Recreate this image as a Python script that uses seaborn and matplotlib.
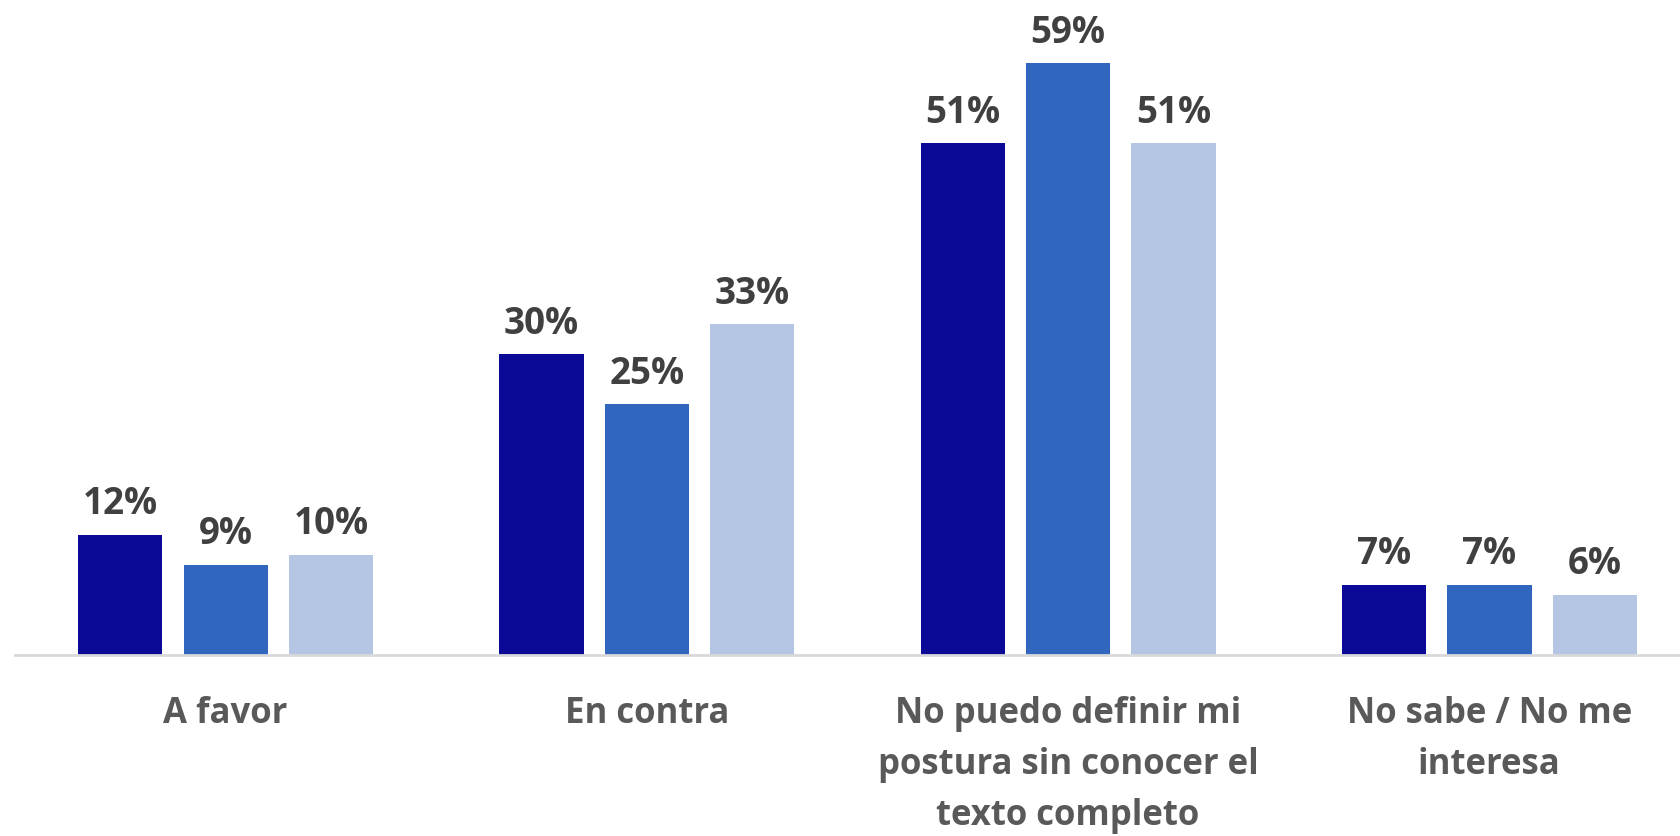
import numpy as np
import pandas as pd
import matplotlib
matplotlib.use("Agg")
import matplotlib.pyplot as plt
import seaborn as sns

categories = ["A favor", "En contra",
              "No puedo definir mi\npostura sin conocer el\ntexto completo",
              "No sabe / No me\ninteresa"]
series = ["Serie 1", "Serie 2", "Serie 3"]
serie_1 = [12, 30, 51, 7]
serie_2 = [9, 25, 59, 7]
serie_3 = [10, 33, 51, 6]
colors = ["#0A0A96", "#3066BE", "#B4C6E4"]

df = pd.DataFrame({
    "categoria": categories * 3,
    "serie": np.repeat(series, len(categories)),
    "valor": serie_1 + serie_2 + serie_3,
})

sns.set_theme(style="white")
plt.rcParams["font.family"] = ["Open Sans", "DejaVu Sans"]

W, H = 1681, 837
fig = plt.figure(figsize=(W / 100, H / 100), dpi=100)
ax = fig.add_axes([15 / W, 181 / H, 1685 / W, 656 / H])

sns.barplot(data=df, x="categoria", y="valor", hue="serie", order=categories,
            hue_order=series, palette=colors, saturation=1, width=0.75, gap=0.2,
            linewidth=0, legend=False, ax=ax)

for cont in ax.containers:
    ax.bar_label(cont, fmt="%d%%", padding=9, fontsize=26.5, fontweight="bold",
                 color="#404040")

ax.set_xlim(-0.5, 3.5)
ax.set_ylim(0, 656 / 10.03)
ax.set_xlabel("")
ax.set_ylabel("")
ax.set_yticks([])
for s in ["top", "right", "left"]:
    ax.spines[s].set_visible(False)
ax.spines["bottom"].set_color("#D9D9D9")
ax.spines["bottom"].set_linewidth(2)
ax.tick_params(axis="x", length=0, pad=29)
for lab in ax.get_xticklabels():
    lab.set_fontsize(25)
    lab.set_fontweight("bold")
    lab.set_color("#595959")
    lab.set_linespacing(1.55)

fig.savefig("out.png", dpi=100)
